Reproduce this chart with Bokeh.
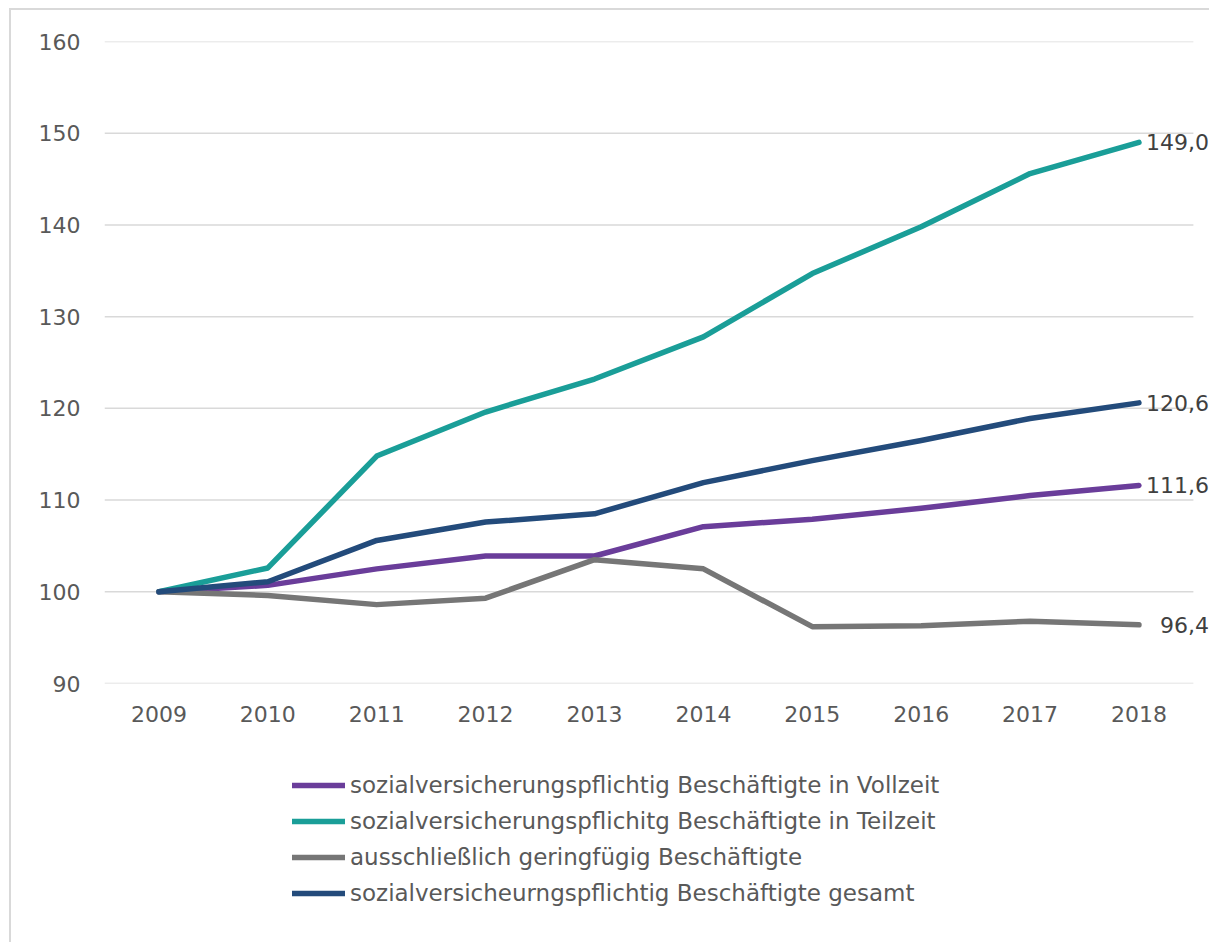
from bokeh.plotting import figure
from bokeh.models import Range1d, FixedTicker, Legend, LegendItem, ColumnDataSource
from bokeh.layouts import column
from bokeh.core.properties import value
from bokeh.embed import file_html
from bokeh.resources import INLINE

years = [2009, 2010, 2011, 2012, 2013, 2014, 2015, 2016, 2017, 2018]
vollzeit = [100, 100.7, 102.5, 103.9, 103.9, 107.1, 107.9, 109.1, 110.5, 111.6]
teilzeit = [100, 102.6, 114.8, 119.6, 123.2, 127.8, 134.7, 139.8, 145.6, 149.0]
geringfuegig = [100, 99.6, 98.6, 99.3, 103.5, 102.5, 96.2, 96.3, 96.8, 96.4]
gesamt = [100, 101.1, 105.6, 107.6, 108.5, 111.9, 114.3, 116.5, 118.9, 120.6]

names = [
    "sozialversicherungspflichtig Beschäftigte in Vollzeit",
    "sozialversicherungspflichitg Beschäftigte in Teilzeit",
    "ausschließlich geringfügig Beschäftigte",
    "sozialversicheurngspflichtig Beschäftigte gesamt",
]
colors = ["#6A3D9A", "#1A9E98", "#767676", "#234B7B"]
series = [vollzeit, teilzeit, geringfuegig, gesamt]
y_ticks = [90, 100, 110, 120, 130, 140, 150, 160]

FONT = "DejaVu Sans"
# outer chart-area border offset (page px)
OX, OY = 11, 10
W = 1209 - OX
H1 = 750 - OY
H2 = 942 - 750
px_per_year = 108.89
left = 104 - OX
top = 41 - OY
frame_h = 642
frame_w = W - left

p = figure(width=W, height=H1, output_backend="svg", toolbar_location=None,
           x_range=Range1d(2008.5, 2008.5 + frame_w / px_per_year),
           y_range=Range1d(90, 160),
           min_border_left=left, min_border_right=0, min_border_top=top,
           min_border_bottom=H1 - top - frame_h)
p.outline_line_color = None
p.border_fill_color = "white"
p.xgrid.visible = False
p.ygrid.visible = False

# grid lines spanning only the category area
p.segment(x0=[years[0] - 0.5] * len(y_ticks), x1=[years[-1] + 0.5] * len(y_ticks),
          y0=y_ticks, y1=y_ticks, line_color="#D9D9D9", line_width=1.5)

for ax in (p.xaxis[0], p.yaxis[0]):
    ax.axis_line_color = None
    ax.major_tick_line_color = None
    ax.minor_tick_line_color = None
    ax.major_label_text_font = FONT
    ax.major_label_text_font_size = "22px"
    ax.major_label_text_color = "#595959"

p.xaxis.ticker = FixedTicker(ticks=years)
p.xaxis.major_label_standoff = 16
p.yaxis.ticker = FixedTicker(ticks=y_ticks)
p.yaxis.major_label_standoff = 18

for col, vals in zip(colors, series):
    p.line(years, vals, line_color=col, line_width=5.5, line_cap="round", line_join="round")

# end-value labels
last_vals = [s[-1] for s in series]
lbl_src = ColumnDataSource(dict(x=[years[-1]] * 4, y=last_vals,
                                t=[f"{v:.1f}".replace(".", ",") for v in last_vals]))
p.text(x="x", y="y", text="t", source=lbl_src, x_offset=70, text_align="right",
       text_baseline="middle", text_font=value(FONT), text_font_size="22px",
       text_color="#404040")

# legend figure (series drawn outside its visible range; only legend shows)
p2 = figure(width=W, height=H2, output_backend="svg", toolbar_location=None,
            x_axis_location=None, y_axis_location=None,
            x_range=Range1d(0, 1), y_range=Range1d(0, 1),
            min_border=0, min_border_left=left, min_border_right=0,
            min_border_top=0, min_border_bottom=0)
p2.outline_line_color = None
p2.xgrid.visible = False
p2.ygrid.visible = False

items = []
for name, col, vals in zip(names, colors, series):
    r = p2.line(years, vals, line_color=col, line_width=5.5, line_cap="round")
    items.append(LegendItem(label=name, renderers=[r]))

row_h = 36
legend = Legend(items=items, location=(292 - 104, H2 - 17 - 4 * row_h),
                orientation="vertical")
legend.margin = 0
legend.padding = 0
legend.border_line_color = None
legend.background_fill_alpha = 0
legend.label_text_font = FONT
legend.label_text_font_size = "23px"
legend.label_text_color = "#595959"
legend.glyph_width = 53
legend.glyph_height = row_h
legend.label_height = row_h
legend.label_standoff = 5
legend.spacing = 0
p2.add_layout(legend, "center")

layout = column(p, p2, spacing=0,
                styles={"margin-left": "9px", "margin-top": "8px",
                        "border-left": "2px solid #D9D9D9",
                        "border-top": "2px solid #D9D9D9"})
open("out.html", "w").write(file_html(layout, INLINE))
